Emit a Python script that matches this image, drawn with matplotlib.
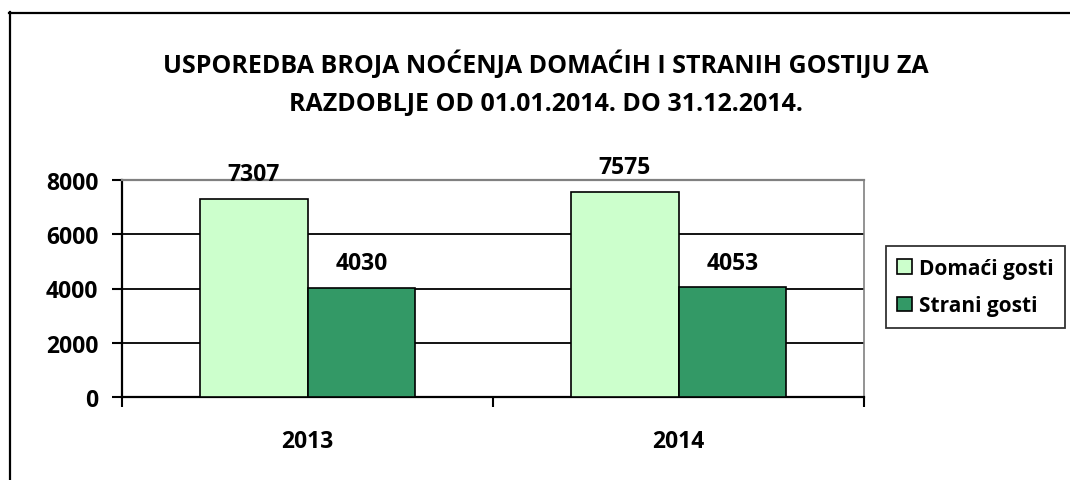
import matplotlib
matplotlib.use("Agg")
import matplotlib.pyplot as plt
from matplotlib.lines import Line2D
import numpy as np


# DATA
YEARS = ["2013", "2014"]
DOMACI = [7307, 7575]
STRANI = [4030, 4053]
SERIES_NAMES = ["Domaći gosti", "Strani gosti"]
Y_TICKS = [0, 2000, 4000, 6000, 8000]
TITLE_LINES = [
    "USPOREDBA BROJA NOĆENJA DOMAĆIH I STRANIH GOSTIJU ZA",
    "RAZDOBLJE OD 01.01.2014. DO 31.12.2014.",
]

LIGHT_GREEN = "#CCFFCC"
DARK_GREEN = "#339966"

plt.rcParams["font.family"] = ["Open Sans", "DejaVu Sans"]
plt.rcParams["font.weight"] = "bold"

W, H = 1070, 481
figure = plt.figure(figsize=(W / 100, H / 100), dpi=100)

# outer chart frame (cut off on right and bottom)
figure.add_artist(Line2D([9.5 / W, 9.5 / W], [0, 1 - 13 / H],
                         transform=figure.transFigure, color="black", lw=1.6))
figure.add_artist(Line2D([9 / W, 1], [1 - 13.5 / H, 1 - 13.5 / H],
                         transform=figure.transFigure, color="black", lw=1.6))

# title
figure.text(546 / W, 1 - 65 / H, TITLE_LINES[0], ha="center", va="center",
            fontsize=18, fontweight="bold")
figure.text(546 / W, 1 - 104 / H, TITLE_LINES[1], ha="center", va="center",
            fontsize=18, fontweight="bold")

axis = figure.add_axes([122 / W, 1 - 398 / H, (864 - 122) / W, (398 - 181) / H])

x = np.arange(len(YEARS))
bar_width = 0.29

bars_d = axis.bar(x - bar_width / 2, DOMACI, bar_width, color=LIGHT_GREEN,
                  edgecolor="black", linewidth=1.2, label=SERIES_NAMES[0], zorder=3)
bars_s = axis.bar(x + bar_width / 2, STRANI, bar_width, color=DARK_GREEN,
                  edgecolor="black", linewidth=1.2, label=SERIES_NAMES[1], zorder=3)

for bars in (bars_d, bars_s):
    axis.bar_label(bars, padding=9, fontsize=16.5, fontweight="bold",
                   clip_on=False)

axis.set_xlim(-0.5, len(YEARS) - 0.5)
axis.set_ylim(0, 8000)
axis.set_yticks(Y_TICKS)
axis.set_yticklabels([str(v) for v in Y_TICKS])
axis.set_xticks(x)
axis.set_xticklabels(YEARS)
axis.set_xticks(np.arange(len(YEARS) + 1) - 0.5, minor=True)

axis.tick_params(axis="y", direction="out", length=7, width=1.5, pad=10,
                 labelsize=16.5)
axis.tick_params(axis="x", which="major", length=0, pad=23, labelsize=16.5)
axis.tick_params(axis="x", which="minor", direction="out", length=7, width=1.5)

for tick in axis.get_yticklabels() + axis.get_xticklabels():
    tick.set_fontweight("bold")

# gridlines
for value in Y_TICKS[1:-1]:
    axis.axhline(value, color="black", lw=1.3, zorder=1)

axis.spines["left"].set_linewidth(1.6)
axis.spines["bottom"].set_linewidth(1.6)
axis.spines["top"].set_color("#808080")
axis.spines["top"].set_linewidth(1.6)
axis.spines["right"].set_color("#808080")
axis.spines["right"].set_linewidth(1.2)

legend = axis.legend(
    loc="center left",
    bbox_to_anchor=(886 / W, 1 - 288 / H),
    bbox_transform=figure.transFigure,
    fontsize=15,
    frameon=True,
    fancybox=False,
    edgecolor="black",
    handlelength=0.7,
    handleheight=0.7,
    handletextpad=0.35,
    borderpad=0.55,
    labelspacing=0.8,
    borderaxespad=0,
)
legend.get_frame().set_linewidth(1.3)
for text in legend.get_texts():
    text.set_fontweight("bold")

figure.savefig("out.png", dpi=100)
